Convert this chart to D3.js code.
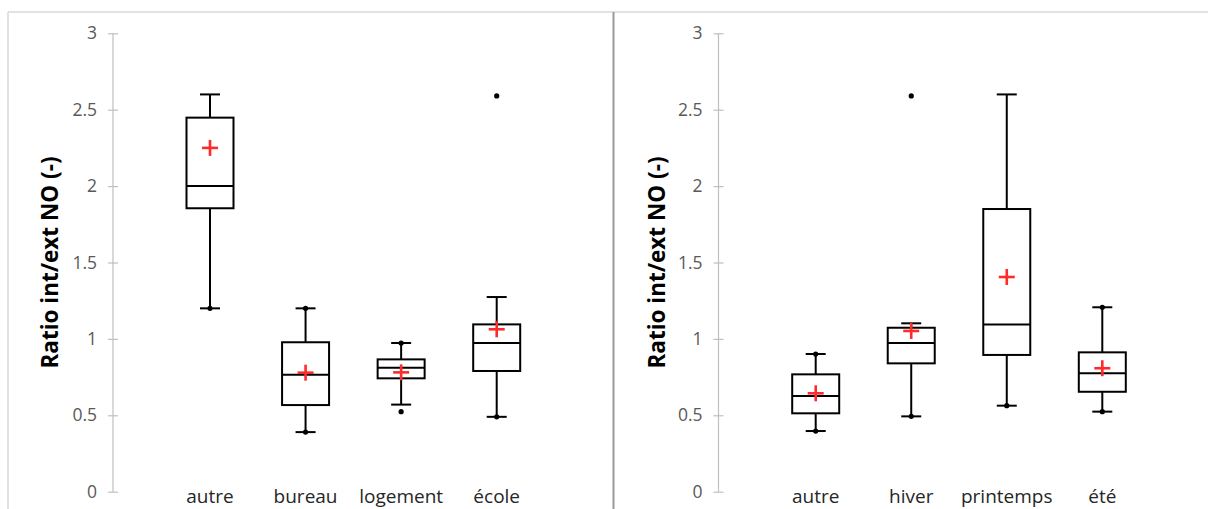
<!DOCTYPE html>
<html><head><meta charset="utf-8">
<script src="https://cdn.jsdelivr.net/npm/d3@7"></script>
<style>body{margin:0;background:#fff}svg{display:block}</style>
</head><body>
<script>
const yTicks = [0, 0.5, 1, 1.5, 2, 2.5, 3];
const yTickLabels = ["0", "0.5", "1", "1.5", "2", "2.5", "3"];
const yTitle = "Ratio int/ext NO (-)";

const leftCats = ["autre", "bureau", "logement", "école"];
const leftMin  = [1.20, 0.39, 0.57, 0.49];
const leftQ1   = [1.855, 0.567, 0.742, 0.79];
const leftMed  = [2.00, 0.766, 0.811, 0.973];
const leftQ3   = [2.448, 0.978, 0.866, 1.095];
const leftMax  = [2.60, 1.20, 0.973, 1.274];
const leftMean = [2.25, 0.779, 0.781, 1.063];
const leftPoints = [[1.20], [1.20, 0.39], [0.973, 0.524], [2.59, 0.49]];

const rightCats = ["autre", "hiver", "printemps", "été"];
const rightMin  = [0.397, 0.493, 0.563, 0.524];
const rightQ1   = [0.513, 0.840, 0.895, 0.654];
const rightMed  = [0.626, 0.973, 1.095, 0.775];
const rightQ3   = [0.768, 1.073, 1.850, 0.912];
const rightMax  = [0.901, 1.102, 2.60, 1.207];
const rightMean = [0.644, 1.052, 1.405, 0.808];
const rightPoints = [[0.901, 0.397], [2.59, 0.493], [0.563], [1.207, 0.524]];

const W = 1208, H = 509;
const svg = d3.select("body").append("svg").attr("width", W).attr("height", H);
svg.append("rect").attr("width", W).attr("height", H).attr("fill", "#fff");

// borders
svg.append("line").attr("x1", 8).attr("x2", W).attr("y1", 12).attr("y2", 12)
  .attr("stroke", "#d9d9d9").attr("stroke-width", 1.5);
svg.append("line").attr("x1", 8).attr("x2", 8).attr("y1", 12).attr("y2", H)
  .attr("stroke", "#d9d9d9").attr("stroke-width", 1.5);
svg.append("line").attr("x1", 613.5).attr("x2", 613.5).attr("y1", 12).attr("y2", H)
  .attr("stroke", "#9a9a9a").attr("stroke-width", 2);

const y = d3.scaleLinear().domain([0, 3]).range([491.7, 33.3]);
const FONT = "'Open Sans', sans-serif";

function panel(axisX, titleX, xRange, cats, mins, q1s, meds, q3s, maxs, means, pts) {
  const g = svg.append("g");
  const ax = g.append("g").attr("transform", `translate(${axisX},0)`)
    .call(d3.axisLeft(y).tickValues(yTicks).tickSize(5).tickPadding(11)
      .tickFormat((d, i) => yTickLabels[i]));
  ax.select(".domain").attr("stroke", "#bfbfbf").attr("stroke-width", 1.2)
    .attr("d", `M0,${y(0)}V${y(3)}`);
  ax.selectAll(".tick line").attr("x1", -5).attr("x2", 5).attr("stroke", "#bfbfbf").attr("stroke-width", 1.2);
  ax.selectAll(".tick text").attr("font-family", FONT).attr("font-size", 17.5)
    .attr("fill", "#595959");

  g.append("text").attr("transform", `translate(${titleX},${(y(0) + y(3)) / 2}) rotate(-90)`)
    .attr("text-anchor", "middle").attr("dy", "0.35em")
    .attr("font-family", FONT).attr("font-weight", "bold").attr("font-size", 22.5)
    .attr("fill", "#000").text(yTitle);

  const x = d3.scalePoint().domain(cats).range(xRange);
  const bw = 47, cap = 20;
  cats.forEach((c, i) => {
    const cx = x(c);
    const bg = g.append("g").attr("stroke", "#000").attr("stroke-width", 2).attr("fill", "none");
    bg.append("line").attr("x1", cx).attr("x2", cx).attr("y1", y(maxs[i])).attr("y2", y(q3s[i]));
    bg.append("line").attr("x1", cx).attr("x2", cx).attr("y1", y(q1s[i])).attr("y2", y(mins[i]));
    bg.append("line").attr("x1", cx - cap / 2).attr("x2", cx + cap / 2).attr("y1", y(maxs[i])).attr("y2", y(maxs[i]));
    bg.append("line").attr("x1", cx - cap / 2).attr("x2", cx + cap / 2).attr("y1", y(mins[i])).attr("y2", y(mins[i]));
    bg.append("rect").attr("x", cx - bw / 2).attr("width", bw)
      .attr("y", y(q3s[i])).attr("height", y(q1s[i]) - y(q3s[i]));
    bg.append("line").attr("x1", cx - bw / 2).attr("x2", cx + bw / 2).attr("y1", y(meds[i])).attr("y2", y(meds[i]));
    pts[i].forEach(p => {
      g.append("circle").attr("cx", cx).attr("cy", y(p)).attr("r", 2.6).attr("fill", "#000");
    });
    const my = y(means[i]);
    const m = g.append("g").attr("stroke", "#ff2a2a").attr("stroke-width", 2.6);
    m.append("line").attr("x1", cx - 8).attr("x2", cx + 8).attr("y1", my).attr("y2", my);
    m.append("line").attr("x1", cx).attr("x2", cx).attr("y1", my - 8).attr("y2", my + 8);
    g.append("text").attr("x", cx).attr("y", 503).attr("text-anchor", "middle")
      .attr("font-family", FONT).attr("font-size", 19).attr("fill", "#262626").text(c);
  });
}

panel(113, 50, [210, 496.7], leftCats, leftMin, leftQ1, leftMed, leftQ3, leftMax, leftMean, leftPoints);
panel(718.5, 657, [815.7, 1102.3], rightCats, rightMin, rightQ1, rightMed, rightQ3, rightMax, rightMean, rightPoints);
</script>
</body></html>
